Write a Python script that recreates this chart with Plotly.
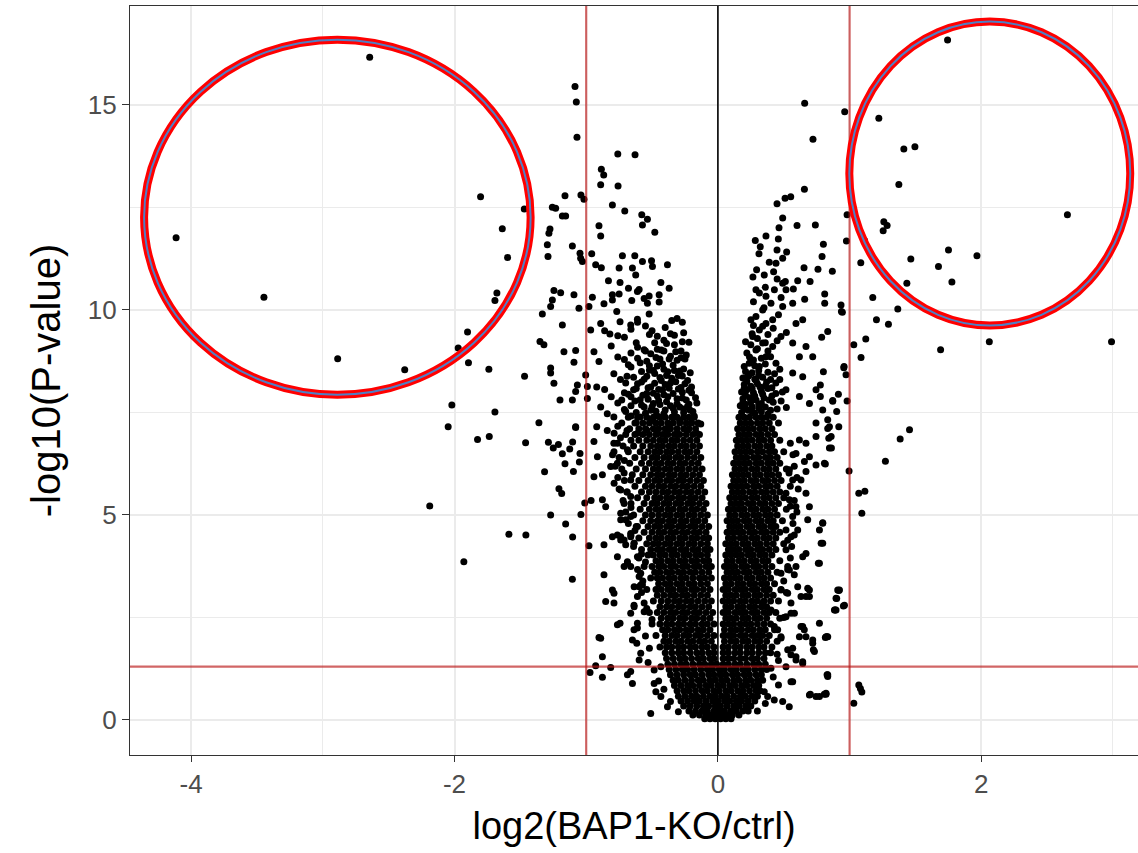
import math
import plotly.graph_objects as go

# ------------------------------------------------------------------
# Data: log2 fold change, -log10 p
# ------------------------------------------------------------------
# isolated points, left side
left_sparse = [
    (-2.644, 16.16), (-4.114, 11.76), (-3.447, 10.31), (-2.887, 8.81), (-2.378, 8.54),
    (-2.020, 7.68), (-2.048, 7.15), (-2.188, 5.22), (-1.929, 3.86),
    (-1.802, 12.76), (-1.637, 11.98), (-1.597, 11.28), (-1.470, 12.46), (-1.678, 10.41),
    (-1.693, 10.23), (-1.901, 9.46), (-1.972, 9.07), (-1.894, 8.71), (-1.739, 8.55),
    (-1.468, 8.38), (-1.693, 7.51), (-1.825, 6.84), (-1.736, 6.91), (-1.587, 4.53),
    (-1.458, 4.51), (-1.333, 9.90), (-1.351, 9.23), (-1.321, 9.15), (-1.359, 7.25),
    (-1.460, 6.76), (-1.105, 3.43),
    (-1.085, 15.45), (-1.075, 15.07), (-1.070, 14.21), (-0.760, 13.80), (-0.629, 13.78),
    (-0.885, 13.43), (-0.867, 13.29), (-0.890, 13.05), (-0.758, 13.02), (-1.161, 12.78),
    (-1.040, 12.80), (-1.017, 12.70),
    (-1.257, 12.50), (-1.232, 12.48), (-1.181, 12.29), (-1.156, 12.29), (-0.801, 12.56),
    (-0.707, 12.41), (-0.578, 12.32), (-0.535, 12.21), (-0.573, 12.07), (-0.479, 11.89),
    (-0.903, 12.05), (-0.890, 11.80), (-1.275, 11.97), (-1.283, 11.87), (-1.295, 11.59),
    (-1.290, 11.30), (-1.105, 11.56), (-1.047, 11.38), (-1.042, 11.26), (-1.029, 11.18),
    (-0.958, 11.37), (-0.928, 11.10), (-0.885, 11.03), (-0.725, 11.32), (-0.631, 11.32),
    (-0.750, 11.02), (-0.649, 11.02), (-0.624, 10.85), (-0.573, 11.18), (-0.504, 11.20),
    (-0.497, 11.06), (-0.383, 11.10), (-0.831, 10.71), (-0.743, 10.67), (-0.679, 10.53),
    (-0.611, 10.45), (-0.598, 10.50), (-0.433, 10.67), (-0.370, 10.53), (-0.446, 10.37),
    (-0.801, 10.37), (-0.750, 10.39), (-1.245, 10.47), (-1.194, 10.42), (-1.093, 10.37),
    (-1.257, 10.24), (-1.270, 10.08), (-1.055, 10.04), (-0.979, 10.08), (-0.953, 10.31),
    (-0.865, 10.15), (-0.801, 10.24), (-0.654, 10.23), (-0.560, 10.28), (-0.535, 10.16),
    (-0.522, 10.34), (-0.446, 10.19), (-0.768, 9.96), (-0.743, 9.71), (-0.662, 9.63),
    (-0.611, 9.77), (-0.522, 9.90), (-1.181, 9.63), (-1.169, 8.98), (-1.080, 9.01),
    (-1.093, 8.72), (-1.270, 8.58), (-1.270, 8.46), (-1.245, 8.21), (-1.067, 8.17),
    (-1.080, 8.01), (-1.199, 7.80), (-1.105, 7.80), (-1.080, 7.15), (-1.004, 8.41),
    (-0.991, 8.13), (-0.991, 7.84), (-0.966, 9.51), (-0.941, 8.98), (-0.903, 8.74),
    (-1.287, 6.77), (-1.250, 6.63), (-1.211, 6.72), (-1.181, 6.49), (-1.161, 6.25),
    (-1.125, 6.61), (-1.103, 6.78), (-1.080, 7.13), (-1.047, 6.50), (-1.097, 6.06),
    (-1.052, 6.29), (-1.316, 6.05), (-1.207, 5.64), (-1.186, 5.52), (-1.270, 5.00),
    (-1.156, 4.78), (-1.103, 4.46), (-1.040, 5.01), (-1.011, 5.29), (-0.963, 5.35),
    (-0.979, 4.25), (-0.941, 6.79), (-0.941, 5.93), (-0.915, 6.42), (-0.877, 5.98),
    (-0.877, 5.37), (-0.852, 5.20), (-0.865, 4.27), (-0.801, 4.47), (-0.738, 4.47),
    (-0.789, 6.54), (-0.814, 6.18), (-0.738, 4.88), (-0.712, 4.39), (-0.662, 4.55),
    (-0.637, 4.31), (-0.903, 2.01), (-0.971, 1.16), (-0.928, 1.32),
]

# scattered points bordering the left arm of the cloud
left_fringe = [
    (-0.865, 3.54), (-0.801, 3.17), (-0.789, 3.09), (-0.852, 2.89), (-0.789, 2.85),
    (-0.763, 2.32), (-0.743, 2.36), (-0.890, 1.99), (-0.877, 1.54), (-0.814, 1.28),
    (-0.877, 1.04), (-0.687, 1.10), (-0.662, 1.18), (-0.649, 0.89), (-0.510, 0.16),
    (-0.637, 2.80), (-0.637, 2.20), (-0.611, 2.24), (-0.649, 1.95), (-0.586, 1.63),
    (-0.598, 1.46), (-0.573, 3.29), (-0.598, 3.25), (-0.560, 2.64), (-0.484, 0.89),
    (-0.471, 0.69), (-0.433, 0.57), (-0.383, 0.32), (-0.484, 1.22), (-0.433, 1.30),
    (-0.763, 3.98), (-0.687, 3.82), (-0.712, 3.74), (-0.586, 3.58), (-0.616, 1.87),
    (-0.763, 4.51), (-0.738, 4.39), (-0.700, 4.27), (-0.662, 4.47), (-0.636, 4.31),
    (-0.687, 3.86), (-0.662, 3.74), (-0.611, 3.98), (-0.598, 3.50), (-0.636, 3.25),
    (-0.586, 3.29), (-0.611, 3.01), (-0.560, 2.85), (-0.636, 2.76), (-0.611, 2.36),
    (-0.662, 2.60), (-0.738, 5.04), (-0.700, 4.88), (-0.662, 4.96), (-0.611, 4.72),
    (-0.712, 5.28), (-0.662, 5.45), (-0.763, 6.26), (-0.712, 6.02), (-0.662, 5.85),
    (-0.738, 5.61), (-0.788, 5.77), (-0.763, 6.75), (-0.687, 6.59), (-0.788, 6.99),
    (-0.52, 1.75), (-0.55, 2.05), (-0.50, 2.45), (-0.53, 1.40), (-0.45, 0.95),
    (-0.41, 0.75), (-0.36, 0.45), (-0.30, 0.20), (-0.58, 4.05), (-0.55, 3.85),
    (-0.58, 3.11), (-0.57, 3.39), (-0.61, 3.67), (-0.60, 3.95), (-0.64, 4.23),
    (-0.66, 4.51), (-0.68, 4.79), (-0.70, 5.07), (-0.72, 5.35), (-0.75, 5.63),
    (-0.76, 5.91), (-0.78, 6.19), (-0.80, 6.47), (-0.79, 6.75), (-0.54, 2.72),
    (-0.69, 5.56), (-0.71, 6.33), (-0.74, 6.88), (-0.66, 5.18), (-0.63, 4.62),
]

# semi-dense upper part of the left arm
left_upper = [
    (-0.89, 9.67), (-0.86, 9.49), (-0.82, 9.41), (-0.76, 9.37), (-0.71, 9.33),
    (-0.66, 9.53), (-0.61, 9.70), (-0.55, 9.61), (-0.50, 9.49), (-0.46, 9.36),
    (-0.40, 9.57), (-0.35, 9.74), (-0.31, 9.79), (-0.27, 9.70), (-0.26, 9.44),
    (-0.22, 9.21), (-0.41, 9.26), (-0.36, 9.42), (-0.81, 9.12), (-0.76, 8.85),
    (-0.71, 8.79), (-0.66, 8.95), (-0.61, 9.09), (-0.56, 9.03), (-0.51, 8.93),
    (-0.46, 9.04), (-0.41, 9.00), (-0.36, 8.87), (-0.31, 8.77), (-0.25, 8.80),
    (-0.66, 8.61), (-0.59, 8.71), (-0.52, 8.53), (-0.46, 8.63), (-0.41, 8.55),
    (-0.33, 8.52), (-0.26, 8.56), (-0.23, 8.28), (-0.79, 8.44), (-0.74, 8.30),
    (-0.69, 8.38), (-0.61, 8.20), (-0.56, 8.31), (-0.51, 8.12), (-0.43, 8.28),
    (-0.36, 8.22), (-0.28, 8.11), (-0.20, 7.98), (-0.92, 8.12), (-0.86, 8.06),
    (-0.81, 7.88), (-0.76, 7.73), (-0.71, 7.98), (-0.66, 7.88), (-0.59, 7.81),
    (-0.54, 7.96), (-0.46, 7.90), (-0.38, 7.88), (-0.31, 7.71), (-0.23, 7.65),
    (-0.16, 7.73), (-0.89, 7.63), (-0.84, 7.47), (-0.79, 7.39), (-0.71, 7.57),
    (-0.66, 7.41), (-0.59, 7.39), (-0.51, 7.55), (-0.46, 7.41), (-0.41, 7.47),
    (-0.33, 7.39), (-0.26, 7.49), (-0.18, 7.41), (-0.13, 7.22), (-0.92, 7.15),
    (-0.84, 7.06), (-0.76, 7.16), (-0.69, 7.06), (-0.61, 6.99), (-0.54, 7.07),
    (-0.46, 6.98), (-0.38, 7.08), (-0.31, 6.98), (-0.23, 7.07), (-0.16, 6.99),
    (-0.64, 8.05), (-0.49, 7.72), (-0.42, 8.05), (-0.34, 7.60), (-0.27, 7.85),
    (-0.21, 7.55), (-0.56, 7.63), (-0.62, 7.25), (-0.50, 7.30), (-0.37, 7.20),
    (-0.29, 7.30), (-0.20, 7.25), (-0.48, 8.45), (-0.39, 8.40), (-0.30, 8.40),
    (-0.54, 8.75), (-0.44, 8.80), (-0.48, 9.20), (-0.33, 9.15), (-0.28, 9.00),
    (-0.24, 8.90),
    (-0.70, 7.52), (-0.62, 7.50), (-0.55, 7.48), (-0.47, 7.53), (-0.40, 7.56),
    (-0.33, 7.51), (-0.26, 7.58), (-0.19, 7.52), (-0.66, 7.66), (-0.58, 7.68),
    (-0.50, 7.64), (-0.44, 7.69), (-0.36, 7.66), (-0.29, 7.63), (-0.22, 7.70),
    (-0.73, 7.80), (-0.63, 7.78), (-0.53, 7.82), (-0.45, 7.79), (-0.39, 7.76),
    (-0.31, 7.83), (-0.24, 7.80), (-0.17, 7.86), (-0.68, 7.94), (-0.57, 7.92),
    (-0.49, 7.97), (-0.41, 7.93), (-0.34, 7.96), (-0.27, 7.99), (-0.20, 8.12),
    (-0.62, 8.08), (-0.53, 8.10), (-0.45, 8.06), (-0.37, 8.09), (-0.30, 8.07),
    (-0.22, 8.04), (-0.70, 8.22), (-0.58, 8.24), (-0.48, 8.21), (-0.40, 8.18),
    (-0.32, 8.25), (-0.25, 8.20), (-0.64, 8.36), (-0.54, 8.38), (-0.44, 8.35),
    (-0.35, 8.33), (-0.27, 8.39), (-0.58, 8.50), (-0.49, 8.52), (-0.38, 8.49),
    (-0.29, 8.51), (-0.21, 8.47), (-0.68, 8.66), (-0.52, 8.64), (-0.42, 8.68),
    (-0.34, 8.65), (-0.61, 8.82), (-0.47, 8.84), (-0.37, 8.80), (-0.28, 8.83),
    (-0.55, 9.00), (-0.43, 9.02), (-0.32, 8.98), (-0.62, 9.20), (-0.39, 9.18),
    (-0.27, 9.22), (-0.52, 9.40), (-0.33, 9.38),
]

# isolated points, right side
right_sparse = [
    (1.744, 16.58), (1.222, 14.67), (1.412, 13.92), (1.496, 13.98), (1.374, 13.06),
    (2.654, 12.32), (1.260, 12.15), (1.285, 12.06), (1.255, 11.93), (1.113, 11.69),
    (1.085, 11.15), (1.751, 11.46), (1.465, 11.24), (1.967, 11.32), (1.675, 11.06),
    (1.777, 10.68), (1.435, 10.65), (1.176, 10.30), (1.366, 10.02), (1.204, 9.76),
    (1.295, 9.65), (2.061, 9.22), (2.989, 9.22), (1.691, 9.03), (1.032, 9.15),
    (1.123, 9.29), (1.087, 8.84),
    (0.963, 14.83), (0.981, 12.32), (0.976, 11.68), (0.935, 10.12), (0.945, 9.94),
    (0.956, 8.59), (0.973, 8.42), (0.801, 8.49), (0.981, 7.78), (0.915, 7.94),
    (0.872, 7.79), (0.902, 7.52), (0.918, 7.15), (0.834, 7.32), (0.834, 7.11),
    (0.842, 6.87), (0.862, 6.63), (0.816, 6.24), (0.996, 6.07), (1.455, 7.08),
    (1.384, 6.85), (1.272, 6.31), (1.070, 5.53), (1.116, 5.58), (1.093, 5.04),
    (0.796, 4.81), (0.796, 4.31), (0.918, 3.16), (0.902, 2.96), (0.953, 2.78),
    (0.890, 2.68), (0.827, 2.03), (0.816, 2.01), (0.829, 1.10), (0.821, 0.63),
    (0.808, 0.63), (1.070, 0.85), (1.082, 0.77), (1.093, 0.68), (1.032, 0.41),
    (0.659, 15.04), (0.722, 14.16), (0.657, 12.94), (0.449, 12.59), (0.510, 12.72),
    (0.553, 12.76), (0.492, 12.24), (0.601, 12.06), (0.740, 12.07), (0.464, 12.00),
    (0.459, 11.73), (0.365, 11.80), (0.284, 11.69), (0.322, 11.54), (0.312, 11.37),
    (0.449, 11.46), (0.492, 11.26), (0.522, 11.41), (0.390, 11.16), (0.441, 11.14),
    (0.801, 11.60), (0.791, 11.30), (0.760, 10.99), (0.869, 10.94), (0.654, 11.03),
    (0.294, 10.98), (0.266, 10.80), (0.352, 10.85), (0.423, 10.93), (0.512, 10.69),
    (0.606, 10.71), (0.700, 10.69), (0.573, 10.51), (0.659, 10.26), (0.811, 10.39),
    (0.811, 10.16), (0.938, 9.96), (0.788, 9.33), (0.834, 9.47), (0.958, 8.62),
    (0.778, 8.17), (0.778, 7.89), (0.872, 7.77),
]

# scattered points bordering the right arm of the cloud
right_fringe = [
    (0.763, 3.82), (0.682, 3.21), (0.695, 3.01), (0.631, 2.28), (0.656, 2.20),
    (0.669, 2.03), (0.771, 2.36), (0.834, 2.03), (0.720, 1.95), (0.725, 1.71),
    (0.897, 2.68), (0.897, 2.97), (0.910, 3.17), (0.568, 1.75), (0.593, 1.54),
    (0.644, 1.42), (0.403, 1.26), (0.517, 1.30), (0.568, 0.93), (0.834, 1.10),
    (0.702, 0.63), (0.771, 0.57), (0.821, 0.65), (0.492, 0.45), (0.542, 0.32),
    (0.352, 0.69), (0.378, 0.57), (0.428, 0.49), (0.530, 3.09), (0.555, 2.85),
    (0.479, 3.17), (0.606, 3.25), (0.631, 3.01), (0.555, 2.60), (0.517, 2.52),
    (0.428, 2.28), (0.454, 2.20), (0.479, 2.03), (0.530, 1.71), (0.555, 1.59),
    (0.340, 2.85), (0.403, 2.68), (0.530, 3.74), (0.479, 3.58), (0.580, 3.54),
    (0.847, 6.63), (0.860, 6.91), (0.745, 6.22), (0.809, 6.26), (0.695, 6.42),
    (0.669, 6.06), (0.631, 5.85), (0.669, 5.53), (0.695, 5.20), (0.682, 4.88),
    (0.796, 4.80), (0.771, 4.63), (0.784, 4.31), (0.771, 3.82), (0.669, 4.06),
    (0.644, 3.98), (0.695, 3.17), (0.669, 3.01), (0.923, 3.17), (0.885, 2.68),
    (0.961, 2.80), (0.581, 2.60), (0.619, 2.03), (0.644, 2.28), (0.733, 1.67),
    (0.720, 1.87), (0.822, 2.03), (0.593, 1.46), (0.644, 1.38), (0.834, 1.06),
    (0.695, 0.61), (0.745, 0.57), (0.555, 0.93), (0.593, 5.20), (0.568, 4.96),
    (0.517, 4.63), (0.555, 4.47), (0.606, 4.63), (0.517, 4.15), (0.593, 3.74),
    (0.543, 3.66), (0.619, 6.83), (0.669, 6.75), (0.745, 6.91), (0.593, 6.50),
    (0.657, 6.30), (0.543, 6.10), (0.568, 5.85), (0.517, 5.53), (0.543, 5.37),
    (0.36, 0.40), (0.30, 0.22), (0.46, 0.85), (0.42, 1.05), (0.45, 1.60),
    (0.52, 3.11), (0.50, 3.39), (0.53, 3.67), (0.55, 3.95), (0.56, 4.23),
    (0.58, 4.51), (0.57, 4.79), (0.60, 5.07), (0.58, 5.35), (0.61, 5.63),
    (0.60, 5.91), (0.58, 6.19), (0.57, 6.47), (0.55, 6.75), (0.50, 2.50),
    (0.48, 2.00), (0.46, 1.45), (0.53, 4.38), (0.55, 5.21), (0.54, 6.02),
]

# semi-dense upper part of the right arm
right_upper = [
    (0.251, 9.76), (0.289, 10.49), (0.315, 10.41), (0.429, 10.49), (0.492, 10.65),
    (0.517, 10.49), (0.568, 10.16), (0.492, 10.08), (0.593, 9.67), (0.644, 9.76),
    (0.479, 9.35), (0.568, 9.19), (0.669, 9.11), (0.619, 8.86), (0.720, 8.86),
    (0.568, 8.46), (0.644, 8.37), (0.517, 8.05), (0.619, 7.89), (0.745, 8.05),
    (0.695, 7.72), (0.796, 7.56), (0.745, 7.24), (0.847, 7.15), (0.365, 10.33),
    (0.403, 10.16), (0.340, 10.00), (0.289, 9.84), (0.315, 9.51), (0.365, 9.67),
    (0.416, 9.76), (0.264, 9.35), (0.340, 9.19), (0.416, 9.11), (0.289, 9.02),
    (0.365, 8.86), (0.238, 8.70), (0.315, 8.62), (0.441, 8.70),
    (0.18, 7.50), (0.23, 7.55), (0.28, 7.48), (0.33, 7.52), (0.38, 7.46),
    (0.45, 7.58), (0.17, 7.66), (0.21, 7.70), (0.26, 7.64), (0.31, 7.69),
    (0.36, 7.63), (0.42, 7.75), (0.19, 7.83), (0.24, 7.86), (0.29, 7.80),
    (0.35, 7.85), (0.41, 7.90), (0.18, 8.00), (0.22, 8.05), (0.27, 7.98),
    (0.33, 8.02), (0.38, 8.08), (0.49, 8.00), (0.20, 8.18), (0.25, 8.14),
    (0.30, 8.20), (0.36, 8.15), (0.44, 8.22), (0.19, 8.34), (0.23, 8.38),
    (0.28, 8.31), (0.34, 8.36), (0.40, 8.30), (0.21, 8.50), (0.26, 8.47),
    (0.31, 8.52), (0.38, 8.48), (0.47, 8.55), (0.27, 8.78), (0.33, 8.82),
    (0.22, 8.95), (0.38, 9.00), (0.25, 9.15), (0.45, 9.25), (0.30, 9.30),
    (0.38, 9.40), (0.42, 9.55), (0.52, 9.45), (0.27, 9.62), (0.46, 9.88),
    (0.35, 10.05), (0.48, 10.30), (0.27, 10.20), (0.36, 10.55), (0.45, 10.75),
    (0.20, 7.58), (0.26, 7.52), (0.31, 7.60), (0.40, 7.55), (0.52, 7.62),
    (0.19, 7.74), (0.25, 7.76), (0.33, 7.72), (0.39, 7.80), (0.48, 7.78),
    (0.21, 7.92), (0.28, 7.90), (0.34, 7.94), (0.44, 7.96), (0.20, 8.09),
    (0.26, 8.08), (0.32, 8.12), (0.41, 8.10), (0.22, 8.26), (0.29, 8.28),
    (0.37, 8.24), (0.47, 8.30), (0.24, 8.42), (0.31, 8.40), (0.43, 8.44),
    (0.20, 8.62), (0.28, 8.64), (0.36, 8.68), (0.24, 8.85), (0.40, 8.86),
    (0.30, 9.05), (0.21, 9.22), (0.36, 9.20), (0.26, 9.42), (0.34, 9.60),
]

# dense core of the volcano: -log10(p) level and the fold changes estimated on it
core_levels = [
    0.03, 0.12, 0.22, 0.34, 0.46, 0.58, 0.71, 0.84, 0.97, 1.10, 1.23, 1.36, 1.50, 1.64,
    1.78, 1.92, 2.06, 2.20, 2.34, 2.48, 2.62, 2.76, 2.90, 3.04, 3.18, 3.32, 3.46, 3.60,
    3.74, 3.88, 4.02, 4.16, 4.30, 4.44, 4.58, 4.72, 4.86, 5.00, 5.14, 5.28, 5.42, 5.56,
    5.70, 5.84, 5.98, 6.12, 6.26, 6.40, 6.54, 6.68, 6.82, 6.96, 7.10, 7.24, 7.38,
]
core_fc = [
    [-0.10, -0.06, -0.02, 0.02, 0.06, 0.10],
    [-0.19, -0.14, -0.09, -0.05, -0.01, 0.03, 0.07, 0.11, 0.16],
    [-0.22, -0.17, -0.12, -0.08, -0.03, 0.01, 0.05, 0.10, 0.14, 0.19, 0.23],
    [-0.26, -0.21, -0.16, -0.11, -0.07, -0.02, 0.02, 0.07, 0.12, 0.16, 0.21, 0.25],
    [-0.28, -0.23, -0.18, -0.14, -0.09, -0.04, 0.00, 0.05, 0.09, 0.14, 0.18, 0.23, 0.28],
    [-0.30, -0.25, -0.20, -0.16, -0.11, -0.06, -0.02, 0.03, 0.07, 0.12, 0.17, 0.21, 0.26, 0.30],
    [-0.31, -0.26, -0.22, -0.17, -0.12, -0.08, -0.03, 0.01, 0.06, 0.10, 0.15, 0.19, 0.24, 0.29, 0.32],
    [-0.33, -0.28, -0.23, -0.19, -0.14, -0.09, -0.05, 0.00, 0.04, 0.09, 0.13, 0.18, 0.22, 0.27, 0.31],
    [-0.34, -0.30, -0.25, -0.20, -0.15, -0.11, -0.06, -0.02, 0.03, 0.07, 0.12, 0.16, 0.21, 0.25, 0.30, 0.34],
    [-0.36, -0.31, -0.26, -0.21, -0.17, -0.12, -0.07, -0.03, 0.02, 0.06, 0.11, 0.15, 0.20, 0.24, 0.29, 0.33],
    [-0.37, -0.32, -0.27, -0.23, -0.18, -0.13, -0.08, -0.04, 0.01, 0.05, 0.10, 0.14, 0.19, 0.23, 0.28, 0.33, 0.37],
    [-0.38, -0.33, -0.28, -0.24, -0.19, -0.14, -0.10, -0.05, -0.01, 0.04, 0.08, 0.13, 0.17, 0.22, 0.27, 0.31, 0.36],
    [-0.39, -0.34, -0.29, -0.25, -0.20, -0.15, -0.11, -0.06, -0.03, 0.04, 0.08, 0.12, 0.17, 0.21, 0.26, 0.30, 0.35],
    [-0.40, -0.35, -0.30, -0.26, -0.21, -0.16, -0.12, -0.07, -0.03, 0.04, 0.08, 0.13, 0.17, 0.22, 0.26, 0.31, 0.36, 0.40],
    [-0.44, -0.39, -0.35, -0.30, -0.26, -0.21, -0.17, -0.12, -0.08, -0.03, 0.04, 0.08, 0.13, 0.17, 0.22, 0.26, 0.31, 0.35, 0.41],
    [-0.41, -0.37, -0.32, -0.28, -0.23, -0.19, -0.14, -0.10, -0.05, 0.05, 0.10, 0.14, 0.19, 0.23, 0.28, 0.32, 0.37, 0.45],
    [-0.47, -0.40, -0.35, -0.31, -0.26, -0.22, -0.17, -0.13, -0.08, -0.03, 0.04, 0.08, 0.12, 0.17, 0.21, 0.26, 0.30, 0.34, 0.39],
    [-0.42, -0.38, -0.33, -0.29, -0.24, -0.20, -0.15, -0.11, -0.06, 0.05, 0.10, 0.14, 0.18, 0.23, 0.27, 0.32, 0.36, 0.43],
    [-0.50, -0.44, -0.39, -0.35, -0.30, -0.26, -0.21, -0.17, -0.12, -0.08, -0.03, 0.04, 0.08, 0.12, 0.17, 0.21, 0.25, 0.30, 0.35, 0.40],
    [-0.43, -0.38, -0.34, -0.29, -0.25, -0.20, -0.16, -0.11, -0.06, 0.06, 0.10, 0.14, 0.19, 0.23, 0.28, 0.32, 0.37, 0.47],
    [-0.52, -0.46, -0.41, -0.36, -0.32, -0.27, -0.23, -0.18, -0.14, -0.09, -0.04, 0.04, 0.08, 0.13, 0.17, 0.21, 0.26, 0.30, 0.35, 0.39, 0.44],
    [-0.44, -0.39, -0.35, -0.30, -0.26, -0.21, -0.17, -0.12, -0.07, 0.06, 0.10, 0.15, 0.19, 0.24, 0.28, 0.33, 0.37],
    [-0.49, -0.43, -0.38, -0.33, -0.29, -0.24, -0.20, -0.15, -0.10, -0.05, 0.04, 0.08, 0.12, 0.17, 0.21, 0.26, 0.30, 0.35, 0.40, 0.46],
    [-0.46, -0.41, -0.36, -0.32, -0.27, -0.23, -0.18, -0.13, -0.08, 0.06, 0.10, 0.14, 0.19, 0.23, 0.28, 0.32, 0.37, 0.42],
    [-0.54, -0.47, -0.43, -0.38, -0.34, -0.29, -0.25, -0.20, -0.16, -0.11, -0.06, 0.04, 0.08, 0.13, 0.17, 0.21, 0.26, 0.30, 0.35, 0.39, 0.48],
    [-0.45, -0.40, -0.36, -0.31, -0.27, -0.22, -0.18, -0.13, -0.08, 0.06, 0.10, 0.15, 0.19, 0.24, 0.28, 0.33, 0.37, 0.43],
    [-0.51, -0.46, -0.42, -0.37, -0.33, -0.28, -0.24, -0.19, -0.14, -0.10, -0.05, 0.05, 0.09, 0.13, 0.17, 0.22, 0.26, 0.31, 0.35, 0.40],
    [-0.48, -0.44, -0.39, -0.35, -0.30, -0.26, -0.21, -0.17, -0.12, -0.07, 0.07, 0.11, 0.15, 0.20, 0.24, 0.29, 0.33, 0.38, 0.45],
    [-0.56, -0.50, -0.45, -0.41, -0.36, -0.32, -0.27, -0.23, -0.18, -0.14, -0.09, -0.05, 0.05, 0.09, 0.13, 0.18, 0.22, 0.27, 0.31, 0.36, 0.41],
    [-0.47, -0.43, -0.38, -0.34, -0.29, -0.25, -0.20, -0.16, -0.11, -0.07, 0.07, 0.11, 0.16, 0.20, 0.25, 0.29, 0.34, 0.38, 0.47],
    [-0.53, -0.49, -0.44, -0.40, -0.35, -0.31, -0.26, -0.22, -0.17, -0.13, -0.08, 0.06, 0.10, 0.14, 0.18, 0.23, 0.27, 0.32, 0.36, 0.41],
    [-0.58, -0.51, -0.46, -0.42, -0.37, -0.33, -0.28, -0.24, -0.19, -0.15, -0.10, -0.06, 0.08, 0.12, 0.16, 0.21, 0.25, 0.30, 0.34, 0.39, 0.44],
    [-0.54, -0.49, -0.45, -0.40, -0.36, -0.31, -0.27, -0.22, -0.18, -0.13, -0.08, 0.06, 0.10, 0.14, 0.19, 0.23, 0.28, 0.32, 0.37, 0.42, 0.50],
    [-0.60, -0.52, -0.47, -0.43, -0.38, -0.34, -0.29, -0.25, -0.20, -0.16, -0.11, -0.07, 0.08, 0.12, 0.17, 0.21, 0.26, 0.30, 0.35, 0.39, 0.44],
    [-0.56, -0.50, -0.45, -0.41, -0.36, -0.32, -0.27, -0.23, -0.18, -0.14, -0.09, 0.07, 0.11, 0.15, 0.19, 0.24, 0.28, 0.33, 0.37, 0.42, 0.47],
    [-0.62, -0.53, -0.48, -0.44, -0.39, -0.35, -0.30, -0.26, -0.21, -0.17, -0.12, -0.07, 0.09, 0.13, 0.17, 0.22, 0.26, 0.31, 0.35, 0.40, 0.44],
    [-0.57, -0.51, -0.46, -0.42, -0.37, -0.33, -0.28, -0.24, -0.19, -0.15, -0.10, 0.07, 0.11, 0.15, 0.20, 0.24, 0.29, 0.33, 0.38, 0.42, 0.49],
    [-0.64, -0.55, -0.50, -0.45, -0.40, -0.36, -0.31, -0.27, -0.22, -0.18, -0.13, -0.08, 0.09, 0.13, 0.18, 0.22, 0.27, 0.31, 0.36, 0.40, 0.45],
    [-0.59, -0.52, -0.47, -0.43, -0.38, -0.34, -0.29, -0.25, -0.20, -0.16, -0.11, 0.08, 0.12, 0.16, 0.20, 0.25, 0.29, 0.34, 0.38, 0.43, 0.52],
    [-0.66, -0.56, -0.50, -0.46, -0.41, -0.37, -0.32, -0.28, -0.23, -0.19, -0.14, -0.09, 0.10, 0.14, 0.18, 0.23, 0.27, 0.32, 0.36, 0.41, 0.46],
    [-0.61, -0.54, -0.48, -0.44, -0.39, -0.35, -0.30, -0.26, -0.21, -0.17, -0.12, 0.09, 0.13, 0.17, 0.21, 0.26, 0.30, 0.35, 0.39, 0.44, 0.50],
    [-0.69, -0.58, -0.52, -0.47, -0.42, -0.38, -0.33, -0.29, -0.24, -0.20, -0.15, -0.10, 0.11, 0.15, 0.19, 0.24, 0.28, 0.33, 0.37, 0.42, 0.47],
    [-0.63, -0.55, -0.50, -0.45, -0.41, -0.36, -0.32, -0.27, -0.23, -0.18, -0.13, 0.10, 0.14, 0.18, 0.22, 0.27, 0.31, 0.36, 0.40, 0.45, 0.55],
    [-0.71, -0.60, -0.53, -0.48, -0.44, -0.39, -0.35, -0.30, -0.26, -0.21, -0.16, -0.11, 0.12, 0.16, 0.20, 0.25, 0.29, 0.34, 0.38, 0.43, 0.48],
    [-0.65, -0.57, -0.51, -0.46, -0.42, -0.37, -0.33, -0.28, -0.24, -0.19, -0.14, 0.11, 0.15, 0.19, 0.23, 0.28, 0.32, 0.37, 0.41, 0.46],
    [-0.73, -0.62, -0.55, -0.49, -0.45, -0.40, -0.36, -0.31, -0.27, -0.22, -0.17, -0.12, 0.13, 0.17, 0.21, 0.26, 0.30, 0.35, 0.39, 0.44, 0.52],
    [-0.67, -0.58, -0.52, -0.47, -0.43, -0.38, -0.34, -0.29, -0.25, -0.20, -0.15, 0.12, 0.16, 0.20, 0.24, 0.29, 0.33, 0.38, 0.42, 0.47],
    [-0.75, -0.63, -0.56, -0.50, -0.46, -0.41, -0.37, -0.32, -0.28, -0.23, -0.18, -0.13, 0.14, 0.18, 0.22, 0.27, 0.31, 0.36, 0.40, 0.45],
    [-0.68, -0.59, -0.53, -0.48, -0.44, -0.39, -0.35, -0.30, -0.25, -0.21, -0.16, 0.13, 0.17, 0.21, 0.25, 0.30, 0.34, 0.39, 0.43, 0.50],
    [-0.72, -0.64, -0.57, -0.51, -0.46, -0.42, -0.37, -0.33, -0.28, -0.24, -0.19, -0.14, 0.15, 0.19, 0.23, 0.28, 0.32, 0.37, 0.41],
    [-0.66, -0.60, -0.54, -0.49, -0.44, -0.40, -0.35, -0.31, -0.26, -0.21, -0.16, 0.14, 0.18, 0.22, 0.26, 0.31, 0.35, 0.40, 0.47],
    [-0.70, -0.63, -0.57, -0.52, -0.47, -0.42, -0.38, -0.33, -0.29, -0.24, -0.19, -0.14, 0.16, 0.20, 0.24, 0.29, 0.33, 0.38, 0.43],
    [-0.67, -0.60, -0.55, -0.49, -0.45, -0.40, -0.36, -0.31, -0.26, -0.22, -0.17, 0.15, 0.19, 0.23, 0.27, 0.32, 0.36, 0.41],
    [-0.73, -0.63, -0.57, -0.52, -0.47, -0.43, -0.38, -0.34, -0.29, -0.24, -0.20, -0.15, 0.17, 0.21, 0.25, 0.30, 0.34, 0.39, 0.46],
    [-0.68, -0.61, -0.54, -0.49, -0.44, -0.40, -0.35, -0.31, -0.26, -0.22, -0.18, 0.16, 0.20, 0.24, 0.29, 0.33, 0.37, 0.42],
]

# thresholds and axis labels
fc_cut = 1.0
p_cut = 0.05
x_ticks = [-4, -2, 0, 2]
x_ticktext = ["-4", "-2", "0", "2"]
y_ticks = [0, 5, 10, 15]
y_ticktext = ["0", "5", "10", "15"]

# highlighted regions (hand-drawn ellipses) in data units
ellipse_x0 = [-4.357, 0.998]
ellipse_x1 = [-1.422, 3.131]
ellipse_y0 = [7.93, 9.62]
ellipse_y1 = [16.59, 17.03]

# ------------------------------------------------------------------
xs, ys = [], []
for group in (left_sparse, left_fringe, left_upper, right_sparse, right_fringe, right_upper):
    for x, y in group:
        xs.append(x)
        ys.append(y)
for lev, row in zip(core_levels, core_fc):
    for x in row:
        xs.append(x)
        ys.append(lev)

fig = go.Figure()
fig.add_trace(go.Scatter(
    x=xs, y=ys, mode="markers",
    marker=dict(color="black", size=7, line=dict(width=0)),
    hoverinfo="skip", showlegend=False,
))

p_line = -math.log10(p_cut)
line_red = "rgba(185,20,20,0.65)"
shapes = [
    dict(type="line", xref="x", yref="paper", x0=0, x1=0, y0=0, y1=1,
         line=dict(color="black", width=1.6), layer="above"),
    dict(type="line", xref="x", yref="paper", x0=-fc_cut, x1=-fc_cut, y0=0, y1=1,
         line=dict(color=line_red, width=2.2), layer="above"),
    dict(type="line", xref="x", yref="paper", x0=fc_cut, x1=fc_cut, y0=0, y1=1,
         line=dict(color=line_red, width=2.2), layer="above"),
    dict(type="line", xref="paper", yref="y", x0=0, x1=1, y0=p_line, y1=p_line,
         line=dict(color=line_red, width=2.2), layer="above"),
]
for a, b, c, d in zip(ellipse_x0, ellipse_x1, ellipse_y0, ellipse_y1):
    shapes.append(dict(type="circle", xref="x", yref="y", x0=a, x1=b, y0=c, y1=d,
                       line=dict(color="#ff0000", width=8), layer="above"))
    shapes.append(dict(type="circle", xref="x", yref="y", x0=a, x1=b, y0=c, y1=d,
                       line=dict(color="#4f7fc4", width=2), layer="above"))

grid = "#ebebeb"
fig.update_layout(
    width=1138, height=853,
    margin=dict(l=130, r=0, t=6, b=98),
    paper_bgcolor="white", plot_bgcolor="white",
    font=dict(family="Liberation Sans, Arial, sans-serif", color="black"),
    shapes=shapes,
    showlegend=False,
    xaxis=dict(
        range=[-4.464, 3.19], tickvals=x_ticks, ticktext=x_ticktext,
        showgrid=True, gridcolor=grid, gridwidth=2.2,
        minor=dict(tickvals=[-3, -1, 1, 3], showgrid=True, gridcolor=grid, gridwidth=1.1),
        zeroline=False, showline=True, linecolor="#333333", linewidth=1.3, mirror=True,
        ticks="outside", ticklen=6, tickwidth=1.3, tickcolor="#333333",
        tickfont=dict(size=26, color="#4d4d4d"),
        title=dict(text="log2(BAP1-KO/ctrl)", font=dict(size=38, color="black"), standoff=14),
    ),
    yaxis=dict(
        range=[-0.854, 17.41], tickvals=y_ticks, ticktext=y_ticktext,
        showgrid=True, gridcolor=grid, gridwidth=2.2,
        minor=dict(tickvals=[2.5, 7.5, 12.5], showgrid=True, gridcolor=grid, gridwidth=1.1),
        zeroline=False, showline=True, linecolor="#333333", linewidth=1.3, mirror=False,
        ticks="outside", ticklen=7, tickwidth=1.3, tickcolor="#333333",
        tickfont=dict(size=26, color="#4d4d4d"),
        title=dict(text="-log10(P-value)", font=dict(size=40, color="black"), standoff=14),
    ),
)

fig.write_html(
    "out.html",
    config={"displayModeBar": False},
    post_script="document.body.style.margin='0px';",
)
